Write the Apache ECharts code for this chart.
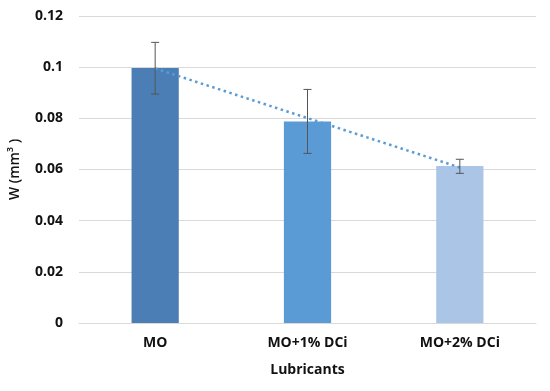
<!DOCTYPE html>
<html><head><meta charset="utf-8">
<script src="https://cdn.jsdelivr.net/npm/echarts@6/dist/echarts.min.js"></script>
<style>html,body{margin:0;padding:0;background:#fff}#c{width:550px;height:391px}</style>
</head><body><div id="c"></div>
<script>
const categories = ['MO', 'MO+1% DCi', 'MO+2% DCi'];
const wearValues = [0.0997, 0.0788, 0.0614];
const errLow = [0.0895, 0.0663, 0.0585];
const errHigh = [0.1097, 0.0913, 0.0640];
const trendValues = [0.0995, 0.0801, 0.0608];
const barColors = ['#4a7eb4', '#5b9bd5', '#abc5e7'];
const yTicks = [0, 0.02, 0.04, 0.06, 0.08, 0.1, 0.12];

const chart = echarts.init(document.getElementById('c'));
const font = '"Open Sans", "Noto Sans", sans-serif';
const txt = {fontFamily: font, fontWeight: 'bold', fontSize: 14, color: '#111'};
chart.setOption({
  animation: false,
  grid: {left: 77, right: 14, top: 16, bottom: 68},
  xAxis: {
    type: 'category', data: categories,
    name: 'Lubricants', nameLocation: 'middle', nameGap: 40,
    nameTextStyle: txt,
    axisLine: {lineStyle: {color: '#d9d9d9'}}, axisTick: {show: false},
    axisLabel: Object.assign({margin: 13}, txt)
  },
  yAxis: {
    type: 'value', min: 0, max: 0.12, interval: 0.02,
    name: 'W (mm³ )', nameLocation: 'middle', nameGap: 57,
    nameTextStyle: {fontFamily: font, fontWeight: 600, fontSize: 14, color: '#111'},
    axisLine: {show: false}, axisTick: {show: false},
    splitLine: {lineStyle: {color: '#d9d9d9'}},
    axisLabel: Object.assign({margin: 16,
      formatter: v => { const t = yTicks.find(x => Math.abs(x - v) < 1e-9); return String(+(t ?? v).toFixed(2)); }}, txt)
  },
  series: [
    {type: 'bar', barWidth: '31%', data: wearValues.map((v, i) => ({value: v, itemStyle: {color: barColors[i]}}))},
    {type: 'line', data: trendValues, symbol: 'none', z: 5,
      lineStyle: {color: '#5b9bd5', width: 2.5, type: [2.5, 3.5]}},
    {type: 'custom', z: 6,
      data: categories.map((c, i) => [i, errLow[i], errHigh[i]]),
      renderItem: (params, api) => {
        const lo = api.coord([api.value(0), api.value(1)]);
        const hi = api.coord([api.value(0), api.value(2)]);
        const hw = 4;
        const st = {stroke: '#555', lineWidth: 1};
        return {type: 'group', children: [
          {type: 'line', shape: {x1: hi[0], y1: hi[1], x2: lo[0], y2: lo[1]}, style: st},
          {type: 'line', shape: {x1: hi[0]-hw, y1: hi[1], x2: hi[0]+hw, y2: hi[1]}, style: st},
          {type: 'line', shape: {x1: lo[0]-hw, y1: lo[1], x2: lo[0]+hw, y2: lo[1]}, style: st}
        ]};
      }}
  ]
});
</script></body></html>
